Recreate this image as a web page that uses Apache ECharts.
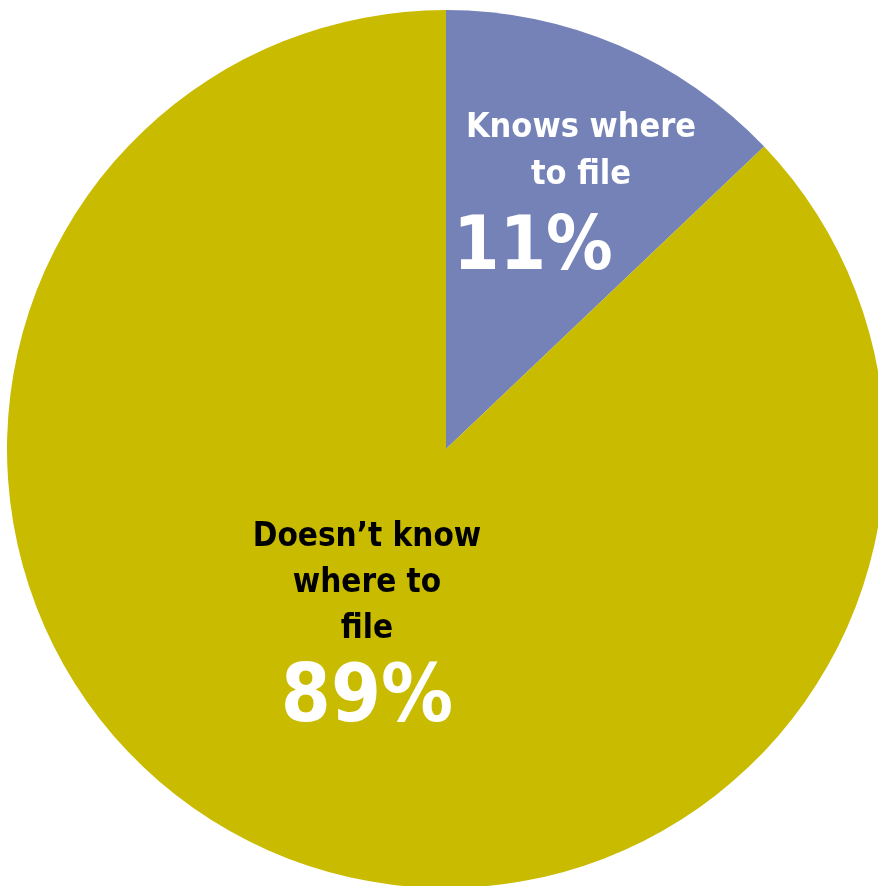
<!DOCTYPE html>
<html><head><meta charset="utf-8">
<script src="https://cdn.jsdelivr.net/npm/echarts@6/dist/echarts.min.js"></script>
<style>html,body{margin:0;padding:0;background:#fff}#c{width:878px;height:886px}</style>
</head><body><div id="c"></div>
<script>
const categories = ['Knows where to file', "Doesn\u2019t know where to file"];
const labelLines = [['Knows where', 'to file'], ['Doesn\u2019t know', 'where to', 'file']];
// slice sizes as drawn in the reference (wedge spans ~46.5 degrees)
const values = [12.9, 87.1];
const pctLabels = ['11%', '89%'];
const colors = ['#7482b7', '#c9bb00'];

const chart = echarts.init(document.getElementById('c'), null, {renderer: 'canvas'});
const labelPos = [[581, 203], [367, 631]];
const font = '"DejaVu Sans Condensed", "Liberation Sans Narrow", sans-serif';
chart.setOption({
  animation: false,
  series: [{
    type: 'pie',
    center: [446, 449],
    radius: [0, 439],
    startAngle: 90,
    clockwise: true,
    silent: true,
    data: categories.map((c, i) => ({
      name: c, value: values[i],
      itemStyle: {color: colors[i]},
      label: {
        formatter: labelLines[i].map(l => '{' + (i === 0 ? 'nw' : 'nb') + '|' + l + '}').join('\n') + '\n{' + (i === 0 ? 'pw' : 'pb') + '|' + pctLabels[i] + '}',
      }
    })),
    label: {
      show: true,
      position: 'inside',
      align: 'center',
      verticalAlign: 'middle',
      rich: {
        nw: {fontFamily: font, fontWeight: 'bold', fontSize: 34, color: '#ffffff', lineHeight: 47, align: 'center'},
        nb: {fontFamily: font, fontWeight: 'bold', fontSize: 33, color: '#000000', lineHeight: 46, align: 'center'},
        pw: {fontFamily: font, fontWeight: 'bold', fontSize: 74, color: '#ffffff', lineHeight: 103, align: 'center', padding: [0, 96, 0, 0]},
        pb: {fontFamily: font, fontWeight: 'bold', fontSize: 80, color: '#ffffff', lineHeight: 96, align: 'center'}
      }
    },
    labelLine: {show: false},
    labelLayout: function (p) {
      return {x: labelPos[p.dataIndex][0], y: labelPos[p.dataIndex][1], align: 'center', verticalAlign: 'middle'};
    }
  }]
});
</script></body></html>
